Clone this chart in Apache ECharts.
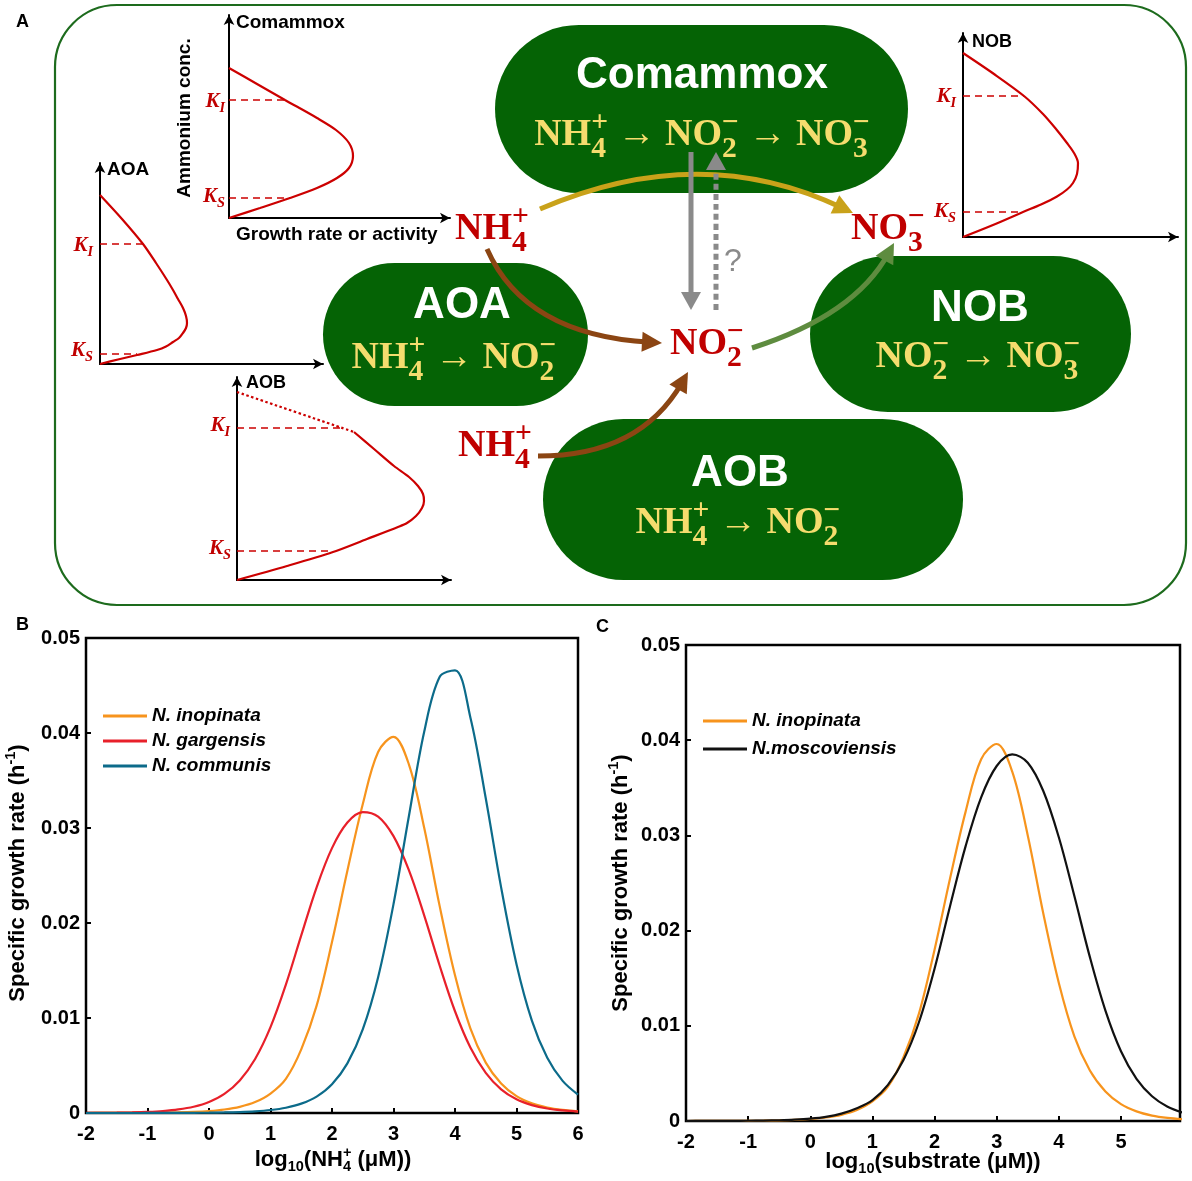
<!DOCTYPE html>
<html><head><meta charset="utf-8">
<script src="https://cdn.jsdelivr.net/npm/echarts@6/dist/echarts.min.js"></script>
<style>html,body{margin:0;padding:0;background:#fff}#chart{width:1192px;height:1181px}</style>
</head><body><div id="chart"></div>
<script>
// ---------------- data (panels B & C) ----------------
const logConc = [-2,-1.75,-1.5,-1.25,-1,-0.75,-0.5,-0.25,0,0.25,0.5,0.75,1,1.25,1.5,1.75,2,2.25,2.5,2.75,3,3.25,3.5,3.75,4,4.25,4.5,4.75,5,5.25,5.5,5.75,6];
const inopinata = [0.000002,0.000004,0.000007,0.000012,0.000021,0.000037,0.000066,0.000117,0.00021,0.00037,0.00065,0.00115,0.00205,0.0036,0.0067,0.0113,0.0180,0.0255,0.0325,0.0380,0.0396,0.0367,0.0300,0.0218,0.0145,0.0089,0.0053,0.0031,0.00177,0.00101,0.00057,0.00032,0.00018];
const gargensis = [0.000012,0.000021,0.000038,0.000067,0.000119,0.000211,0.000374,0.00066,0.00116,0.00201,0.00343,0.00569,0.00904,0.01351,0.01869,0.02376,0.02788,0.03057,0.03167,0.03120,0.02914,0.02556,0.02078,0.01553,0.01071,0.00689,0.00422,0.00249,0.00144,0.00083,0.00047,0.00027,0.00015];
const communis = [0,0,0.000001,0.000002,0.000003,0.000006,0.00001,0.000018,0.000032,0.000056,0.0001,0.000177,0.000314,0.000557,0.000984,0.00173,0.00303,0.00522,0.0088,0.0143,0.02199,0.03124,0.04015,0.0459,0.0466,0.04164,0.03313,0.02375,0.01567,0.00973,0.00581,0.00338,0.00194];
const moscoviensis = [0.000002,0.000005,0.000008,0.000014,0.000025,0.000045,0.000079,0.000141,0.00025,0.00044,0.00078,0.00135,0.0022,0.0038,0.0064,0.0104,0.0160,0.02259,0.02887,0.0340,0.03729,0.03851,0.03763,0.03466,0.0298,0.02363,0.01721,0.0116,0.00733,0.00443,0.0026,0.0015,0.00087];
const namesB = ['N. inopinata','N. gargensis','N. communis'];
const namesC = ['N. inopinata','N.moscoviensis'];

// ---------------- schematic curves (panel A), [growth, conc] ----------------
const comammoxCurve = [[0,0],[31,10],[61,20],[88,30],[108,40],[120,50],[124,62],[120,75],[107,88],[88,100],[56,118],[28,134],[0,150]];
const comammoxK = [[20,61],[118,56]];
const aoaCurve = [[0,0],[18,4.5],[37,9],[57,14],[66,17.5],[73,22],[79,26],[83,31],[86,36],[87,41],[86,48],[83,56],[78,65],[73,74],[67,84],[56,101],[43,120],[22,145],[0,169]];
const aoaK = [[10,37],[120,43]];
const nobCurve = [[0,0],[30,12],[60,25],[78,32.5],[94,40.5],[104,47.5],[110,54],[114,63],[115,74],[111,84],[104,94],[93,108],[80,123],[61,141],[31,163],[0,184]];
const nobK = [[25,60],[141,61]];
const aobCurve = [[0,0],[50,14],[96,28],[130,41],[161,53],[170,57],[179,64],[185,72],[187,79],[186,86],[181,94],[172,103],[157,114],[137,131],[117,148]];
const aobInhibited = [[0,188],[117,148]];
const aobK = [[29,94],[152,107]];

// ---------------- styling ----------------
const SANS = '"Liberation Sans", Arial, sans-serif';
const SERIF = '"Liberation Serif", "Times New Roman", serif';
const PILL = '#056305', YEL = '#f5dc6e', RED = '#c00000', CRV = '#cc0000';
const ORANGE = '#f7941d', RED2 = '#e8202a', TEAL = '#0c6b8a';

const mctx = document.createElement('canvas').getContext('2d');
function fontStr(o, size){ return (o.style||'normal')+' '+(o.weight||'bold')+' '+size+'px '+o.family; }
function measure(t, f){ mctx.font = f; return mctx.measureText(t).width; }
function chem(x, y, tokens, o){
  const size = o.size, ss = size*(o.subScale||0.72);
  const fMain = fontStr(o,size), fSmall = fontStr(o,ss);
  const items = []; let w = 0;
  tokens.forEach(tk=>{
    if (typeof tk === 'string'){ items.push({t:tk,f:fMain,dx:w,dy:0}); w += measure(tk,fMain); }
    else {
      let ww = 0;
      if (tk.sup!=null){ items.push({t:tk.sup,f:fSmall,dx:w,dy:size*(o.supDy!=null?o.supDy:-0.32)}); ww=Math.max(ww,measure(tk.sup,fSmall)); }
      if (tk.sub!=null){ items.push({t:tk.sub,f:fSmall,dx:w,dy:size*(o.subDy!=null?o.subDy:0.36)}); ww=Math.max(ww,measure(tk.sub,fSmall)); }
      w += ww;
    }
  });
  const start = o.align==='left'?0:(o.align==='right'?-w:-w/2);
  return {type:'group', x:x, y:y, rotation:o.rotation||0, z:30,
    children: items.map(it=>({type:'text', x:start+it.dx, y:it.dy, z:30,
      style:{text:it.t, font:it.f, fill:o.color||'#000', align:'left', verticalAlign:'middle', textAlign:'left', textVerticalAlign:'middle'}}))};
}
function arrow(p0, c, tip, color, lw, hl, hw, dash){
  let ux = tip[0]-c[0], uy = tip[1]-c[1]; const L = Math.hypot(ux,uy); ux/=L; uy/=L;
  const bx = tip[0]-ux*hl, by = tip[1]-uy*hl;
  const ex = tip[0]-ux*hl*0.6, ey = tip[1]-uy*hl*0.6;
  return [
    {type:'bezierCurve', z:20, shape:{x1:p0[0],y1:p0[1],x2:ex,y2:ey,cpx1:c[0],cpy1:c[1]},
     style:{stroke:color, lineWidth:lw, fill:'none', lineDash:dash||null, lineCap:'butt'}},
    {type:'polygon', z:21, shape:{points:[[tip[0],tip[1]],[bx-uy*hw,by+ux*hw],[bx+uy*hw,by-ux*hw]]}, style:{fill:color}}
  ];
}
function pill(x,y,w,h){ return {type:'rect', z:5, shape:{x:x,y:y,width:w,height:h,r:h/2}, style:{fill:PILL}}; }

const NH4 = ['NH',{sub:'4',sup:'+'}], NO2 = ['NO',{sub:'2',sup:'\u2212'}], NO3 = ['NO',{sub:'3',sup:'\u2212'}];
const ARW = ' \u2192 ';
const fY = {size:38, family:SERIF, color:YEL, subScale:0.78, subDy:0.37, supDy:-0.31};
const fR = {size:38, family:SERIF, color:RED, subScale:0.78, subDy:0.37, supDy:-0.31};
const fBig = {size:44, family:SANS, color:'#fff'};
const fMini = {size:19, family:SANS, color:'#000', align:'left'};
const fK = {size:21, family:SERIF, style:'italic', color:RED, align:'right', subScale:0.68, subDy:0.3};
const fTitle = {size:22, family:SANS, color:'#000', subScale:0.66, subDy:0.32, supDy:-0.34};

const graphics = [
  {type:'rect', z:1, shape:{x:55,y:5,width:1131,height:600,r:62}, style:{fill:'none', stroke:'#1d6b1d', lineWidth:2.2}},
  pill(495,25,413,168), pill(323,263,265,143), pill(810,256,321,156), pill(543,419,420,161),
  chem(702,76,['Comammox'],fBig), chem(462,306,['AOA'],fBig), chem(980,309,['NOB'],fBig), chem(740,474,['AOB'],fBig),
  chem(702,135,[...NH4,ARW,...NO2,ARW,...NO3],fY),
  chem(454,358,[...NH4,ARW,...NO2],fY),
  chem(978,357,[...NO2,ARW,...NO3],fY),
  chem(738,523,[...NH4,ARW,...NO2],fY),
  chem(492,229,NH4,fR), chem(888,229,NO3,fR), chem(707,344,NO2,fR), chem(495,446,NH4,fR),
  chem(236,23,['Comammox'],fMini), chem(107,170,['AOA'],fMini),
  chem(972,42,['NOB'],Object.assign({},fMini,{size:18})), chem(246,383,['AOB'],Object.assign({},fMini,{size:18})),
  chem(185,118,['Ammonium conc.'],{size:19, family:SANS, color:'#000', rotation:Math.PI/2}),
  chem(236,235,['Growth rate or activity'],fMini),
  chem(225,102,['K',{sub:'I'}],fK), chem(225,197,['K',{sub:'S'}],fK),
  chem(93,246,['K',{sub:'I'}],fK), chem(93,351,['K',{sub:'S'}],fK),
  chem(956,97,['K',{sub:'I'}],fK), chem(956,212,['K',{sub:'S'}],fK),
  chem(230,426,['K',{sub:'I'}],fK), chem(231,549,['K',{sub:'S'}],fK),
  {type:'text', z:30, x:733, y:262, style:{text:'?', font:'normal 32px '+SANS, fill:'#8a8a8a', align:'center', verticalAlign:'middle', textAlign:'center', textVerticalAlign:'middle'}},
  ...arrow([540,209],[700,140],[853,213],'#c9a21a',5,20,10),
  ...arrow([691,152],[691,230],[691,310],'#8a8a8a',5,18,10),
  ...arrow([716,310],[716,230],[716,152],'#8a8a8a',5,18,10,[6,4]),
  ...arrow([487,249],[525,335],[662,343],'#8b4513',5,20,10),
  ...arrow([538,456],[640,456],[688,372],'#8b4513',5,20,10),
  ...arrow([752,348],[855,315],[894,243],'#5e8c3f',5,20,10),
  chem(16,22,['A'],{size:18, family:SANS, color:'#000', align:'left'}),
  chem(16,625,['B'],{size:18, family:SANS, color:'#000', align:'left'}),
  chem(596,627,['C'],{size:18, family:SANS, color:'#000', align:'left'}),
  chem(18,873,['Specific growth rate (h',{sup:'-1'},')'],Object.assign({},fTitle,{rotation:Math.PI/2})),
  chem(621,883,['Specific growth rate (h',{sup:'-1'},')'],Object.assign({},fTitle,{rotation:Math.PI/2})),
  chem(333,1160,['log',{sub:'10'},'(NH',{sub:'4',sup:'+'},' (\u03bcM))'],fTitle),
  chem(933,1162,['log',{sub:'10'},'(substrate (\u03bcM))'],fTitle)
];

// ---------------- axes ----------------
const tickLab = {fontSize:20, fontWeight:'bold', color:'#000', fontFamily:SANS};
function mainX(g, max){ return {gridIndex:g, type:'value', min:-2, max:max, interval:1,
  axisLine:{show:false, onZero:false}, axisTick:{show:true, inside:true, length:5, lineStyle:{color:'#000', width:2}},
  axisLabel:Object.assign({margin:11, showMaxLabel:max===6}, tickLab), splitLine:{show:false}}; }
function mainY(g){ return {gridIndex:g, type:'value', min:0, max:0.05, interval:0.01,
  axisLine:{show:false, onZero:false}, axisTick:{show:true, inside:true, length:5, lineStyle:{color:'#000', width:2}},
  axisLabel:Object.assign({margin:6, formatter:v=>v===0?'0':v.toFixed(2)}, tickLab), splitLine:{show:false}}; }
function miniAxis(g, max){ return {gridIndex:g, type:'value', min:0, max:max,
  axisLine:{show:true, onZero:false, symbol:['none','arrow'], symbolSize:[8,10], lineStyle:{color:'#000', width:2}},
  axisTick:{show:false}, axisLabel:{show:false}, splitLine:{show:false}}; }

function bcLine(name, ys, color, g){ return {type:'line', name:name, xAxisIndex:g, yAxisIndex:g,
  data:logConc.map((x,i)=>[x, ys[i]]), smooth:0.35, showSymbol:false, symbol:'none', clip:true,
  lineStyle:{color:color, width:2.2}, itemStyle:{color:color}, emphasis:{disabled:true}}; }
function miniLine(curve, K, g, dotted){ const s = {type:'line', xAxisIndex:g, yAxisIndex:g, data:curve,
  smooth:0.3, showSymbol:false, symbol:'none', lineStyle:{color:CRV, width:2.2, type:dotted?[2.5,2.5]:'solid'}, silent:true};
  if (K) s.markLine = {symbol:['none','none'], silent:true, label:{show:false}, animation:false,
    lineStyle:{type:[7,5], color:CRV, width:1.6}, emphasis:{disabled:true},
    data:K.map(k=>[{coord:[0,k[0]]},{coord:[k[1],k[0]]}])};
  return s; }

const legendText = {fontSize:19, fontWeight:'bold', fontStyle:'italic', color:'#000', fontFamily:SANS, lineHeight:20};
const option = {
  animation:false,
  textStyle:{fontFamily:SANS},
  grid:[
    {left:86, top:638, width:492, height:475, show:true, borderColor:'#000', borderWidth:2.5, outerBoundsMode:'none'},
    {left:686, top:645, width:494, height:476, show:true, borderColor:'#000', borderWidth:2.5, outerBoundsMode:'none'},
    {left:229, top:15, width:221, height:203, outerBoundsMode:'none'},
    {left:100, top:163, width:223, height:201, outerBoundsMode:'none'},
    {left:963, top:33, width:215, height:204, outerBoundsMode:'none'},
    {left:237, top:377, width:214, height:203, outerBoundsMode:'none'}
  ],
  xAxis:[mainX(0,6), mainX(1,5.95), miniAxis(2,221), miniAxis(3,223), miniAxis(4,215), miniAxis(5,214)],
  yAxis:[mainY(0), mainY(1), miniAxis(2,203), miniAxis(3,201), miniAxis(4,204), miniAxis(5,203)],
  legend:[
    {data:namesB, left:103, top:706, padding:0, orient:'vertical', icon:'rect', itemWidth:44, itemHeight:3, itemGap:5, selectedMode:false, textStyle:legendText},
    {data:namesC, left:703, top:711, padding:0, orient:'vertical', icon:'rect', itemWidth:44, itemHeight:3, itemGap:8, selectedMode:false, textStyle:legendText}
  ],
  series:[
    bcLine(namesB[0], inopinata, ORANGE, 0),
    bcLine(namesB[1], gargensis, RED2, 0),
    bcLine(namesB[2], communis, TEAL, 0),
    bcLine(namesC[0], inopinata, ORANGE, 1),
    bcLine(namesC[1], moscoviensis, '#111111', 1),
    miniLine(comammoxCurve, comammoxK, 2),
    miniLine(aoaCurve, aoaK, 3),
    miniLine(nobCurve, nobK, 4),
    miniLine(aobCurve, aobK, 5),
    miniLine(aobInhibited, null, 5, true)
  ],
  graphic:{elements:graphics}
};
const chart = echarts.init(document.getElementById('chart'), null, {renderer:'canvas'});
chart.setOption(option);
</script></body></html>
